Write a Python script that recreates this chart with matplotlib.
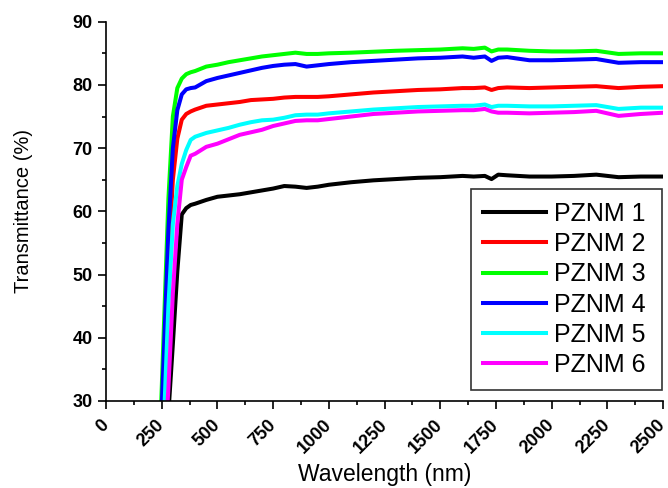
import matplotlib
matplotlib.use('Agg')
import matplotlib.pyplot as plt
from matplotlib.ticker import MultipleLocator

plt.rcParams['font.family'] = ['Liberation Sans', 'DejaVu Sans']

# wavelength grid (nm)
wavelength = [240, 260, 280, 300, 320, 340, 360, 380, 400, 450, 500, 550, 600, 650,
              700, 750, 800, 850, 900, 950, 1000, 1100, 1200, 1300, 1400, 1500, 1600,
              1650, 1700, 1730, 1760, 1800, 1900, 2000, 2100, 2200, 2300, 2400, 2500]

# transmittance (%)
pznm1 = [5, 18, 28, 39, 50.5, 59.5, 60.5, 61.0, 61.2, 61.8, 62.3, 62.5, 62.7, 63.0,
         63.3, 63.6, 64.0, 63.9, 63.7, 63.9, 64.2, 64.6, 64.9, 65.1, 65.3, 65.4, 65.6,
         65.5, 65.6, 65.1, 65.8, 65.7, 65.5, 65.5, 65.6, 65.8, 65.4, 65.5, 65.5]
pznm2 = [18, 33, 52, 65, 71.5, 74.5, 75.4, 75.8, 76.1, 76.7, 76.9, 77.1, 77.3, 77.6,
         77.7, 77.8, 78.0, 78.1, 78.1, 78.1, 78.2, 78.5, 78.8, 79.0, 79.2, 79.3, 79.5,
         79.5, 79.6, 79.2, 79.5, 79.6, 79.5, 79.6, 79.7, 79.8, 79.5, 79.7, 79.8]
pznm3 = [22, 42, 62, 75, 79.5, 81.0, 81.7, 82.0, 82.2, 82.9, 83.2, 83.6, 83.9, 84.2,
         84.5, 84.7, 84.9, 85.1, 84.9, 84.9, 85.0, 85.1, 85.25, 85.4, 85.5, 85.6, 85.8,
         85.7, 85.9, 85.3, 85.6, 85.6, 85.4, 85.3, 85.3, 85.4, 84.9, 85.0, 85.0]
pznm4 = [20, 38, 57, 70, 76, 78.5, 79.3, 79.5, 79.6, 80.6, 81.1, 81.5, 81.9, 82.3,
         82.7, 83.0, 83.2, 83.3, 82.9, 83.1, 83.3, 83.6, 83.8, 84.0, 84.2, 84.3, 84.5,
         84.3, 84.5, 83.8, 84.3, 84.4, 83.9, 83.9, 84.0, 84.1, 83.5, 83.6, 83.6]
pznm5 = [15, 27, 45, 58, 64, 67.5, 69.7, 71.3, 71.8, 72.4, 72.8, 73.2, 73.7, 74.1,
         74.4, 74.5, 74.8, 75.2, 75.3, 75.3, 75.5, 75.8, 76.1, 76.3, 76.5, 76.6, 76.7,
         76.7, 76.9, 76.5, 76.7, 76.7, 76.6, 76.6, 76.7, 76.8, 76.2, 76.4, 76.4]
pznm6 = [10, 20, 32, 47, 58, 65, 67, 68.8, 69.1, 70.2, 70.7, 71.4, 72.1, 72.5,
         72.9, 73.5, 73.9, 74.3, 74.4, 74.4, 74.6, 75.0, 75.4, 75.6, 75.8, 75.9, 76.0,
         76.0, 76.2, 75.8, 75.6, 75.6, 75.5, 75.6, 75.7, 75.9, 75.1, 75.4, 75.6]

series = [pznm1, pznm2, pznm3, pznm4, pznm5, pznm6]
labels = ['PZNM 1', 'PZNM 2', 'PZNM 3', 'PZNM 4', 'PZNM 5', 'PZNM 6']
colors = ['#000000', '#FF0000', '#00FF00', '#0000FF', '#00FFFF', '#FF00FF']
xticks = [0, 250, 500, 750, 1000, 1250, 1500, 1750, 2000, 2250, 2500]
yticks = [30, 40, 50, 60, 70, 80, 90]

fig = plt.figure(figsize=(6.68, 4.88), dpi=100)
ax = fig.add_axes([0.1587, 0.1785, 0.834, 0.777])

for y, lab, c in zip(series, labels, colors):
    ax.plot(wavelength, y, color=c, linewidth=2.9, label=lab)

ax.set_xlim(0, 2500)
ax.set_ylim(30, 90)
ax.set_xticks(xticks)
ax.set_yticks(yticks)
ax.xaxis.set_minor_locator(MultipleLocator(125))
ax.yaxis.set_minor_locator(MultipleLocator(5))

# only left/bottom axis lines
ax.spines['top'].set_visible(False)
ax.spines['right'].set_visible(False)
for s in ['left', 'bottom']:
    ax.spines[s].set_linewidth(1.2)

ax.tick_params(which='major', direction='out', length=5.5, width=1.2)
ax.tick_params(which='minor', direction='out', length=3, width=1.2)
ax.tick_params(axis='x', which='major', pad=10)
ax.tick_params(axis='y', which='major', pad=4)

ax.set_xticklabels([str(t) for t in xticks], rotation=45, ha='right', va='center',
                   rotation_mode='anchor', fontsize=13, fontweight='bold')
ax.set_yticklabels([str(t) for t in yticks], fontsize=13, fontweight='bold')

ax.set_xlabel('Wavelength (nm)', fontsize=16.5, labelpad=4)
ax.set_ylabel('Transmittance (%)', fontsize=14.5)
ax.yaxis.set_label_coords(-0.131, 0.5)

leg = ax.legend(loc='upper left', bbox_to_anchor=(0.655, 0.0287, 0.343, 0.529),
                mode='expand', borderaxespad=0,
                fontsize=18, handlelength=2.5, handletextpad=0.32,
                labelspacing=0.25, borderpad=0.5, fancybox=False, framealpha=1)
leg.get_frame().set_edgecolor('#333333')
leg.get_frame().set_linewidth(1.2)

fig.savefig('out.png', dpi=100)
